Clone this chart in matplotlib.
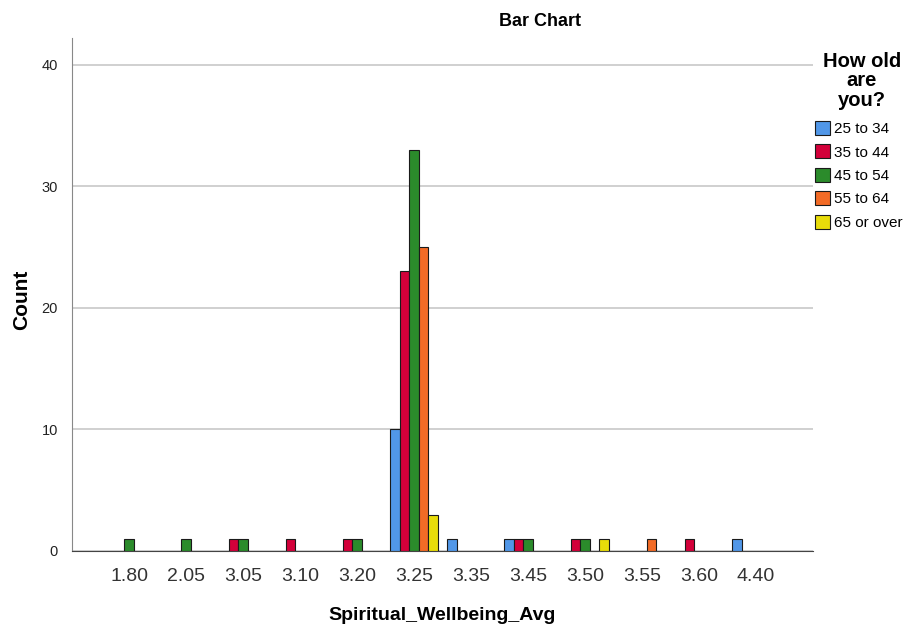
import matplotlib
matplotlib.use("Agg")
import matplotlib.pyplot as plt
import numpy as np
from matplotlib.patches import Patch

plt.rcParams["font.family"] = ["Liberation Sans", "DejaVu Sans"]

categories = ["1.80", "2.05", "3.05", "3.10", "3.20", "3.25", "3.35", "3.45", "3.50", "3.55", "3.60", "4.40"]
groups = ["25 to 34", "35 to 44", "45 to 54", "55 to 64", "65 or over"]
age_25_34 = [0, 0, 0, 0, 0, 10, 1, 1, 0, 0, 0, 1]
age_35_44 = [0, 0, 1, 1, 1, 23, 0, 1, 1, 0, 1, 0]
age_45_54 = [1, 1, 1, 0, 1, 33, 0, 1, 1, 0, 0, 0]
age_55_64 = [0, 0, 0, 0, 0, 25, 0, 0, 0, 1, 0, 0]
age_65_over = [0, 0, 0, 0, 0, 3, 0, 0, 1, 0, 0, 0]
series = [age_25_34, age_35_44, age_45_54, age_55_64, age_65_over]
colors = ["#5197E8", "#D3003A", "#2B8B2B", "#F26B26", "#E8DC0A"]

fig = plt.figure(figsize=(9.11, 6.29), dpi=100)
ax = fig.add_axes([72/911, 1-551/629, (813-72)/911, (551-38)/629])

x = np.arange(len(categories))
w = 1/6
for i, (vals, c) in enumerate(zip(series, colors)):
    vals = np.array(vals)
    mask = vals > 0
    ax.bar(x[mask] + (i-2)*w, vals[mask], width=w, color=c, edgecolor="#1a1a1a", linewidth=0.8, zorder=3)

ax.set_xlim(-1, 12)
ax.set_ylim(0, 42.2)
ax.set_yticks([0, 10, 20, 30, 40])
ax.set_xticks(x)
ax.set_xticklabels(categories, fontsize=14, color="#333333")
ax.tick_params(axis="x", length=0, pad=12)
ax.tick_params(axis="y", length=0, labelsize=10.5, colors="#222222", pad=10)
ax.grid(axis="y", color="#c8c8c8", linewidth=1.2, zorder=0)
for s in ["top", "right"]:
    ax.spines[s].set_visible(False)
ax.spines["left"].set_color("#888888")
ax.spines["bottom"].set_color("#444444")
ax.set_xlabel("Spiritual_Wellbeing_Avg", fontsize=14, fontweight="bold", labelpad=16)

fig.text(22/911, 1-300/629, "Count", rotation=90, ha="center", va="center", fontsize=15, fontweight="bold")
fig.text(540/911, 1-22/629, "Bar Chart", ha="center", va="center", fontsize=13, fontweight="bold")

handles = [Patch(facecolor=c, edgecolor="#1a1a1a", linewidth=0.8) for c in colors]
leg = fig.legend(handles, groups, loc="upper left", bbox_to_anchor=(815/911, 1-121/629),
                 frameon=False, fontsize=11, handlelength=1.0, handleheight=1.0,
                 handletextpad=0.25, labelspacing=0.55, borderaxespad=0, borderpad=0)
fig.text(862/911, 1-81/629, "How old\nare\nyou?", ha="center", va="center", fontsize=14.5,
         fontweight="bold", linespacing=1.05)

fig.savefig("out.png", dpi=100)
